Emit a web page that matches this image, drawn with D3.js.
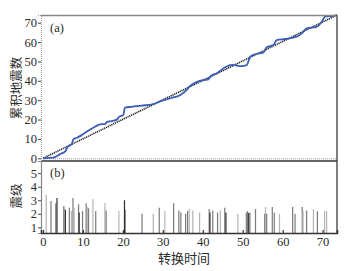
<!DOCTYPE html>
<html><head><meta charset="utf-8">
<script src="https://cdn.jsdelivr.net/npm/d3@7"></script>
<style>body{margin:0;background:#fff;}svg{display:block;}</style>
</head><body>
<script>
// Cumulative earthquake count vs transformed time (panel a)
const cumTime  = [0, 2.6, 3.5, 4.7, 5.5, 6.2, 7.2, 7.6, 8.5, 9.7, 11.4, 13, 14.3, 15.5, 16.1, 17.2, 18.6, 19.1, 20.1, 20.5, 22.2, 24.7, 27.6, 29.7, 31.9, 34.4, 36, 36.9, 40.2, 41.4, 42, 43.5, 45.6, 47.3, 49.8, 51, 51.9, 53.1, 55.2, 56, 57.7, 58.5, 60.6, 63.5, 64.8, 66, 68.5, 69.8, 70.6, 72.7, 73.5];
const cumCount = [0, 0.3, 1.2, 2.6, 3.4, 6, 7.4, 9.8, 10.6, 12, 14.3, 16.3, 17.5, 17.7, 18.9, 19.2, 20.1, 21.5, 22.3, 26.1, 26.6, 27.2, 28, 29.7, 31, 32.7, 35.3, 37.5, 40.4, 40.8, 42.5, 43.9, 47, 48.2, 47.6, 48.2, 52.5, 53.7, 54.7, 57.3, 58.5, 61, 61.6, 62.8, 64.5, 67.1, 67.9, 70.5, 73.1, 73.6, 74];
const refLine = [[0, 0], [73.6, 74]];

// Magnitudes (panel b)
const eqTime  = [0.8, 2.0, 3.2, 3.5, 5.2, 5.4, 5.6, 6.6, 7.1, 7.5, 7.8, 8.9, 9.05, 9.9, 10.8, 11.2, 11.4, 12.5, 13.2, 15.5, 15.8, 19.0, 20.4, 20.5, 24.8, 27.6, 29.1, 30.5, 32.7, 34.0, 34.5, 35.7, 36.2, 36.6, 37.5, 39.2, 41.6, 41.8, 42.5, 43.7, 44.4, 45.5, 45.8, 48.8, 50.9, 51.2, 51.5, 51.8, 53.2, 55.5, 55.7, 56.0, 57.4, 57.9, 59.2, 62.5, 63.1, 64.9, 65.1, 66.0, 67.7, 68.7, 70.5, 71.0];
const eqMag   = [3.4, 2.95, 2.78, 3.17, 2.58, 2.45, 2.3, 2.45, 2.2, 3.17, 2.45, 2.7, 2.1, 2.2, 2.78, 2.5, 2.4, 3.08, 2.2, 2.8, 2.25, 2.2, 3.0, 2.3, 2.0, 2.0, 2.45, 2.2, 2.78, 2.25, 2.1, 2.0, 2.2, 2.35, 2.25, 2.1, 2.35, 2.1, 2.25, 2.1, 2.25, 2.45, 2.1, 2.0, 2.1, 2.2, 2.05, 2.1, 2.35, 2.0, 2.5, 2.0, 2.5, 2.1, 2.0, 2.5, 2.0, 2.5, 2.2, 2.25, 2.35, 2.2, 2.2, 2.2];
const eqShade = ["l","m","m","d","m","l","d","m","l","m","l","m","d","m","m","l","m","l","m","l","m","l","d","d","m","l","m","l","m","m","m","m","m","l","l","l","m","d","m","m","l","m","d","l","m","m","d","m","m","m","l","m","m","m","l","m","m","m","l","m","l","m","l","l"];

const xTicks = [0, 10, 20, 30, 40, 50, 60, 70];
const yTicksA = [0, 10, 20, 30, 40, 50, 60, 70];
const yTicksB = [1, 2, 3, 4, 5];

const W = 352, H = 271;
const L = 41, R = 337, TA = 15, BA = 161, BB = 233;
const shadeColor = {l: "#b4b4b4", m: "#7a7a7a", d: "#2e2e2e"};
const serif = "'Liberation Serif', 'DejaVu Serif', serif";
const cjk = "'Noto Sans CJK SC', sans-serif";
const txtColor = "#2a2a2a";

const svg = d3.select("body").append("svg").attr("width", W).attr("height", H);

const x = d3.scaleLinear().domain([-0.5, 73.6]).range([L, R]);
const yA = d3.scaleLinear().domain([-1.4, 74]).range([BA, TA]);
const yB = d3.scaleLinear().domain([0.58, 5.9]).range([BB, BA]);

// zero reference dotted line in panel a
svg.append("line").attr("x1", L).attr("x2", R).attr("y1", yA(0)+0.5).attr("y2", yA(0)+0.5)
  .attr("stroke", "#999").attr("stroke-width", 1).attr("stroke-dasharray", "1,1");

// bars panel b
svg.append("g").selectAll("line").data(eqTime).join("line")
  .attr("x1", (d) => x(d)).attr("x2", (d) => x(d))
  .attr("y1", yB(0.58)).attr("y2", (d, i) => yB(eqMag[i]))
  .attr("stroke", (d, i) => shadeColor[eqShade[i]]).attr("stroke-width", 1.2);

// reference diagonal (dotted black)
svg.append("path").datum(refLine)
  .attr("d", d3.line().x((d) => x(d[0])).y((d) => yA(d[1])))
  .attr("fill", "none").attr("stroke", "#1a1a1a").attr("stroke-width", 1.6)
  .attr("stroke-dasharray", "1.2,0.8");

// cumulative curve
svg.append("path").datum(cumTime.map((t, i) => [t, cumCount[i]]))
  .attr("d", d3.line().x((d) => x(d[0])).y((d) => yA(d[1])).curve(d3.curveMonotoneX))
  .attr("fill", "none").attr("stroke", "#3a5db5").attr("stroke-width", 1.8);

// frame
svg.append("line").attr("x1", L).attr("x2", R).attr("y1", TA+0.5).attr("y2", TA+0.5).attr("stroke", "#888").attr("stroke-width", 1.5);
svg.append("line").attr("x1", R).attr("x2", R).attr("y1", TA).attr("y2", BB).attr("stroke", "#555").attr("stroke-width", 1.5);
svg.append("line").attr("x1", L).attr("x2", R).attr("y1", BA).attr("y2", BA).attr("stroke", "#333").attr("stroke-width", 1.6);

// y axis panel a
const gA = svg.append("g").attr("transform", `translate(${L},0)`)
  .call(d3.axisLeft(yA).tickValues(yTicksA).tickFormat(d3.format("d")).tickSize(3).tickPadding(1));
gA.select(".domain").attr("stroke", "#999").attr("stroke-dasharray", "1,1").attr("stroke-width", 1.2);
gA.selectAll(".tick line").attr("stroke", "#444");
gA.selectAll("text").attr("font-family", serif).attr("font-size", 12.5).attr("fill", txtColor);

// y axis panel b
const gB = svg.append("g").attr("transform", `translate(${L},0)`)
  .call(d3.axisLeft(yB).tickValues(yTicksB).tickFormat(d3.format("d")).tickSize(3).tickPadding(1));
gB.select(".domain").attr("stroke", "#888").attr("stroke-width", 1.2);
gB.selectAll(".tick line").attr("stroke", "#444");
gB.selectAll("text").attr("font-family", serif).attr("font-size", 12.5).attr("fill", txtColor);

// x axis
const gX = svg.append("g").attr("transform", `translate(0,${BB})`)
  .call(d3.axisBottom(x).tickValues(xTicks).tickFormat(d3.format("d")).tickSize(-3).tickPadding(4));
gX.select(".domain").attr("stroke", "#333").attr("stroke-width", 1.6);
gX.selectAll(".tick line").attr("stroke", "#333").attr("stroke-width", 1.2);
gX.selectAll("text").attr("font-family", serif).attr("font-size", 12.5).attr("fill", txtColor);

// panel labels
svg.append("text").attr("x", 50).attr("y", 32).text("(a)")
  .attr("font-family", serif).attr("font-size", 12.5).attr("fill", txtColor);
svg.append("text").attr("x", 50).attr("y", 177).text("(b)")
  .attr("font-family", serif).attr("font-size", 12.5).attr("fill", txtColor);

// axis titles
svg.append("text").attr("transform", "translate(15,88) rotate(-90)").attr("text-anchor", "middle")
  .attr("dominant-baseline", "central").text("累积地震数")
  .attr("font-family", cjk).attr("font-size", 12.5).attr("fill", txtColor);
svg.append("text").attr("transform", "translate(15,196) rotate(-90)").attr("text-anchor", "middle")
  .attr("dominant-baseline", "central").text("震级")
  .attr("font-family", cjk).attr("font-size", 12.5).attr("fill", txtColor);
svg.append("text").attr("x", 184).attr("y", 257).attr("text-anchor", "middle")
  .attr("dominant-baseline", "central").text("转换时间")
  .attr("font-family", cjk).attr("font-size", 13).attr("fill", txtColor);
</script>
</body></html>
